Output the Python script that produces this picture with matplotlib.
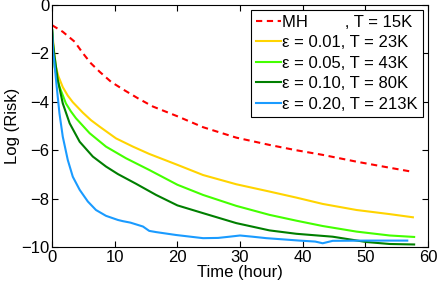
import matplotlib
matplotlib.use('Agg')
import matplotlib.pyplot as plt

plt.rcParams['font.family'] = ['Liberation Sans', 'DejaVu Sans']

# curves (time in hours, log risk)
t_mh = [0, 1.7, 3.6, 4.9, 6.2, 7.6, 9.4, 11.3, 13.7, 16.1, 20, 24.1, 29.4, 34.7, 39, 43.2, 48.6, 53.9, 57.6]
mh = [-0.85, -1.12, -1.53, -2.0, -2.42, -2.77, -3.18, -3.49, -3.86, -4.2, -4.6, -5.05, -5.48, -5.78, -6.0, -6.19, -6.47, -6.72, -6.89]

t_e01 = [0, 0.3, 0.6, 1.0, 1.7, 2.5, 3.3, 4.9, 6.2, 7.6, 10.2, 12.9, 15.5, 20, 24.1, 29.4, 34.7, 39, 43.2, 48.6, 53.9, 57.6]
e01 = [-1.05, -1.9, -2.56, -2.95, -3.4, -3.75, -4.02, -4.45, -4.76, -5.03, -5.51, -5.85, -6.15, -6.6, -7.02, -7.4, -7.7, -7.95, -8.21, -8.46, -8.63, -8.76]

t_e05 = [0, 0.2, 0.4, 0.8, 1.2, 2.2, 3.0, 3.8, 6.0, 8.6, 11.8, 15.5, 20, 24.1, 29.4, 34.7, 39, 43.2, 48.6, 53.9, 57.8]
e05 = [-1.05, -1.95, -2.56, -3.05, -3.4, -4.07, -4.4, -4.68, -5.3, -5.85, -6.33, -6.81, -7.42, -7.84, -8.29, -8.66, -8.9, -9.12, -9.35, -9.51, -9.57]

t_e10 = [0, 0.15, 0.37, 0.9, 1.7, 2.8, 4.4, 6.5, 8.6, 10.5, 13.4, 16.6, 20, 24.1, 29.4, 34.7, 39, 44.8, 50.2, 53.9, 57.8]
e10 = [-1.05, -1.6, -2.1, -3.1, -4.07, -4.89, -5.65, -6.26, -6.67, -6.98, -7.38, -7.84, -8.27, -8.59, -9.0, -9.3, -9.44, -9.56, -9.78, -9.86, -9.88]

t_e20 = [0, 0.15, 0.37, 0.73, 1.17, 1.7, 2.5, 3.3, 4.4, 5.7, 7.0, 8.6, 10.5, 11.3, 12.5, 14.5, 15.5, 16.6, 19.8, 24.1, 26.5, 28.3, 30.0, 32, 34.2, 39.5, 42, 43.2, 44.8, 50.2, 56.7]
e20 = [-1.05, -1.9, -2.42, -3.38, -4.48, -5.44, -6.4, -7.09, -7.63, -8.11, -8.46, -8.7, -8.87, -8.92, -8.98, -9.14, -9.32, -9.37, -9.49, -9.62, -9.61, -9.56, -9.51, -9.56, -9.62, -9.72, -9.76, -9.83, -9.73, -9.72, -9.72]

labels = ['MH        , T = 15K', 'ε = 0.01, T = 23K', 'ε = 0.05, T = 43K',
          'ε = 0.10, T = 80K', 'ε = 0.20, T = 213K']

fig = plt.figure(figsize=(4.38, 2.86), dpi=100)
ax = fig.add_axes([0.119, 0.135, 0.858, 0.849])

ax.plot(t_mh, mh, color='#ff0000', lw=1.5, ls=(0, (3, 2.2)), label=labels[0])
ax.plot(t_e01, e01, color='#ffd400', lw=1.5, label=labels[1])
ax.plot(t_e05, e05, color='#44ff00', lw=1.5, label=labels[2])
ax.plot(t_e10, e10, color='#007f00', lw=1.5, label=labels[3])
ax.plot(t_e20, e20, color='#1a9bff', lw=1.5, label=labels[4])

ax.set_xlim(0, 60)
ax.set_ylim(-10, 0)
ax.set_xticks([0, 10, 20, 30, 40, 50, 60])
ax.set_yticks([-10, -8, -6, -4, -2, 0])
ax.set_yticklabels(['\u221210', '\u22128', '\u22126', '\u22124', '\u22122', '0'])
ax.tick_params(direction='in', top=True, right=True, length=4, labelsize=12, pad=2)
for s in ax.spines.values():
    s.set_linewidth(0.8)

ax.set_xlabel('Time (hour)', fontsize=12, labelpad=0)
ax.set_ylabel('Log (Risk)', fontsize=12, labelpad=1)

leg = ax.legend(loc='upper right', fontsize=12, frameon=True, fancybox=False,
                handlelength=1.5, handletextpad=0.1, labelspacing=0.33,
                borderpad=0.3, borderaxespad=0.3, framealpha=1)
leg.get_frame().set_edgecolor('black')
leg.get_frame().set_linewidth(0.8)

fig.savefig('out.png', dpi=100)
